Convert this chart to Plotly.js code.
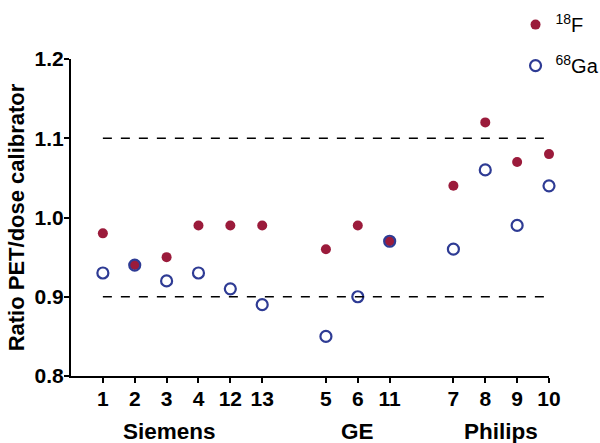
<!DOCTYPE html>
<html>
<head>
<meta charset="utf-8">
<script src="https://cdn.plot.ly/plotly-3.0.1.min.js"></script>
<style>html,body{margin:0;padding:0;background:#fff}#chart{width:600px;height:443px}</style>
</head>
<body>
<div id="chart"></div>
<script>
// Scanner labels (tick text) in display order, and their slot positions on the axis
const scanners = ["1", "2", "3", "4", "12", "13", "5", "6", "11", "7", "8", "9", "10"];
const slots = [0, 1, 2, 3, 4, 5, 7, 8, 9, 11, 12, 13, 14];
// Ratio PET / dose calibrator
const f18 = [0.98, 0.94, 0.95, 0.99, 0.99, 0.99, 0.96, 0.99, 0.97, 1.04, 1.12, 1.07, 1.08];
const ga68 = [0.93, 0.94, 0.92, 0.93, 0.91, 0.89, 0.85, 0.90, 0.97, 0.96, 1.06, 0.99, 1.04];
// Vendor groups
const vendors = ["Siemens", "GE", "Philips"];
const vendorPos = [2.08, 8, 12.5];
// Acceptance limits
const limits = [0.9, 1.1];
const yTicks = [0.8, 0.9, 1.0, 1.1, 1.2];
const yTickText = ["0.8", "0.9", "1.0", "1.1", "1.2"];

const FONT = "Liberation Sans, Arial, sans-serif";
const red = "#9b1b3b";
const blue = "#2e3b94";

const traces = [
  {
    x: slots, y: f18, type: "scatter", mode: "markers", name: "<sup>18</sup>F",
    legendgroup: "a",
    marker: {color: red, size: 10, symbol: "circle"},
    cliponaxis: false
  },
  {
    x: slots, y: ga68, type: "scatter", mode: "markers", name: "<sup>68</sup>Ga",
    legendgroup: "b",
    marker: {color: blue, size: 11, symbol: "circle-open", line: {color: blue, width: 2.2}},
    cliponaxis: false
  }
];

const shapes = limits.map(v => ({
  type: "line", xref: "x", yref: "y",
  x0: slots[0], x1: slots[slots.length - 1], y0: v, y1: v,
  line: {color: "#000", width: 1.3, dash: "dash"}
}));

const annotations = vendors.map((v, i) => ({
  text: "<b>" + v + "</b>", xref: "x", yref: "paper",
  x: vendorPos[i], y: -0.176, showarrow: false,
  xanchor: "center", yanchor: "middle",
  font: {family: FONT, size: 22.5, color: "#000"}
}));

const layout = {
  width: 600, height: 443,
  margin: {l: 71, r: 51, t: 59, b: 67, autoexpand: false},
  paper_bgcolor: "#fff", plot_bgcolor: "#fff",
  showlegend: true,
  legend: {
    x: 0.93, y: 1.17, xanchor: "left", yanchor: "top",
    font: {family: FONT, size: 20, color: "#000"},
    bgcolor: "rgba(0,0,0,0)", tracegroupgap: 12, traceorder: "grouped",
    itemwidth: 30
  },
  xaxis: {
    range: [-1, 14], tickmode: "array", tickvals: slots, ticktext: scanners,
    showgrid: false, zeroline: false, showline: true, linecolor: "#000", linewidth: 2,
    ticks: "outside", ticklen: 5, tickwidth: 2, tickcolor: "#000",
    tickfont: {family: FONT, size: 21, color: "#000", weight: "bold"},
    ticklabelstandoff: -2,
    automargin: false, fixedrange: true
  },
  yaxis: {
    range: [0.8, 1.2], tickmode: "array", tickvals: yTicks, ticktext: yTickText,
    showgrid: false, zeroline: false, showline: true, linecolor: "#000", linewidth: 2,
    ticks: "outside", ticklen: 5, tickwidth: 2, tickcolor: "#000",
    tickfont: {family: FONT, size: 21, color: "#000", weight: "bold"},
    ticklabelstandoff: -4,
    title: {text: "<b>Ratio PET/dose calibrator</b>", font: {family: FONT, size: 22, color: "#000"}, standoff: 4},
    automargin: false, fixedrange: true
  },
  shapes: shapes,
  annotations: annotations
};

Plotly.newPlot("chart", traces, layout, {displayModeBar: false, staticPlot: true});
</script>
</body>
</html>
